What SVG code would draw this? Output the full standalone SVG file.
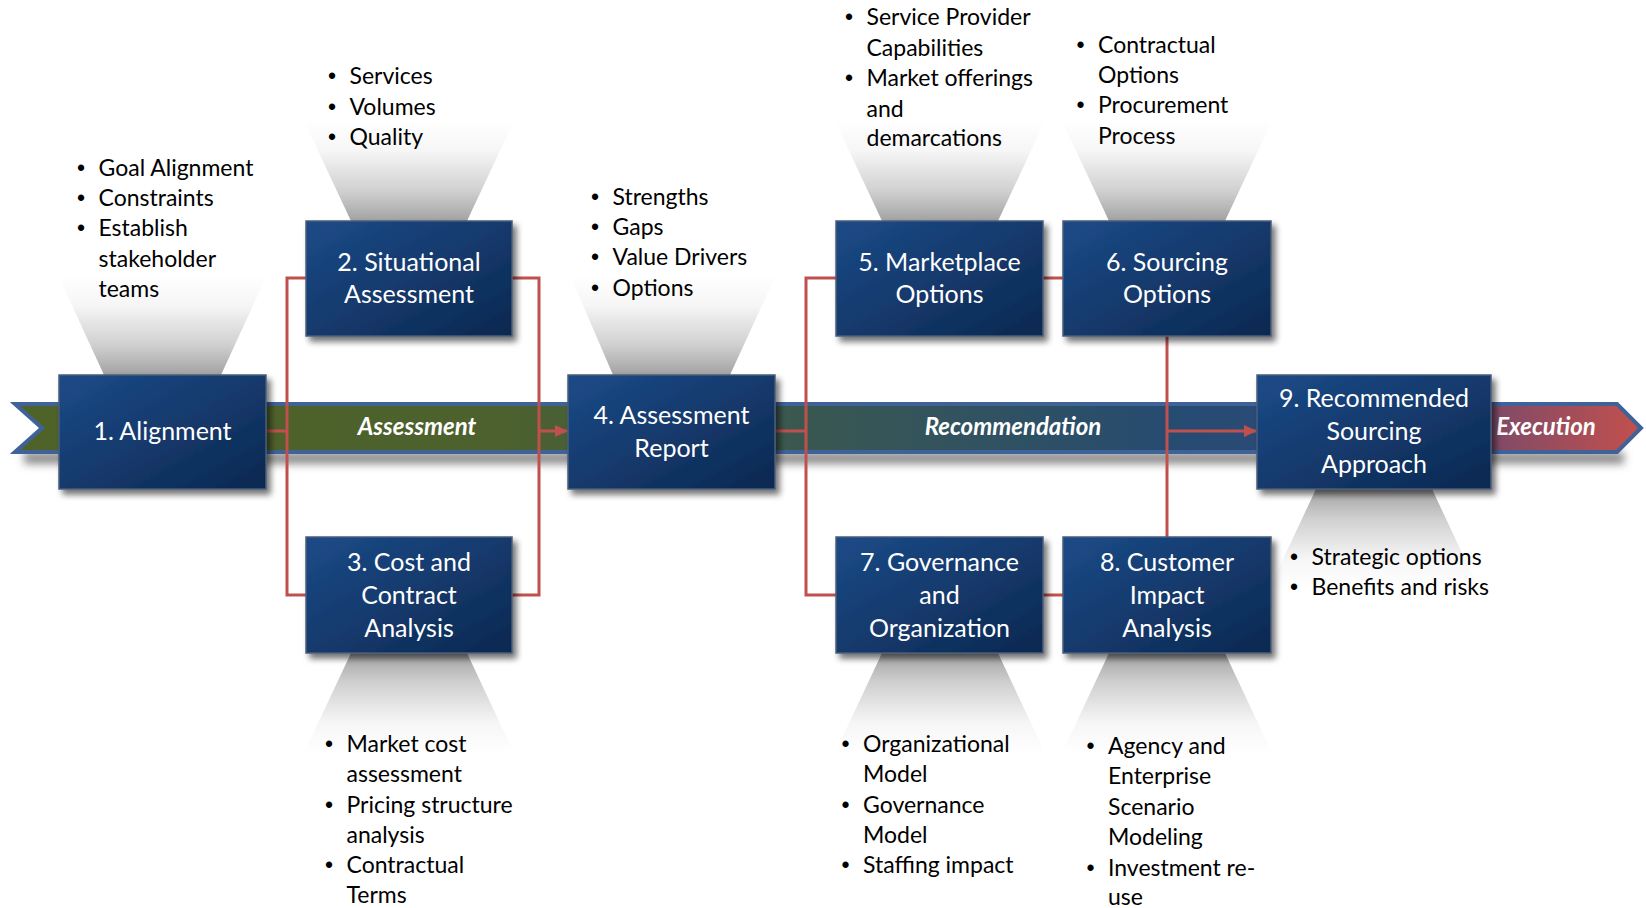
<svg xmlns="http://www.w3.org/2000/svg" width="1646" height="908" viewBox="0 0 1646 908">
<defs>
  <linearGradient id="band" gradientUnits="userSpaceOnUse" x1="12" y1="0" x2="1644" y2="0">
    <stop offset="0" stop-color="#4f6228"/>
    <stop offset="0.30" stop-color="#4d612e"/>
    <stop offset="0.48" stop-color="#3a5850"/>
    <stop offset="0.72" stop-color="#264b72"/>
    <stop offset="0.80" stop-color="#2d4b78"/>
    <stop offset="0.90" stop-color="#7a4a6a"/>
    <stop offset="1" stop-color="#c4504c"/>
  </linearGradient>
  <linearGradient id="boxg" x1="0" y1="0" x2="1" y2="1">
    <stop offset="0" stop-color="#1c4b88"/>
    <stop offset="1" stop-color="#0c2850"/>
  </linearGradient>
  <linearGradient id="fu" x1="0" y1="0" x2="0" y2="1">
    <stop offset="0" stop-color="#ffffff"/>
    <stop offset="0.3" stop-color="#f6f6f6"/>
    <stop offset="0.7" stop-color="#d0d0d0"/>
    <stop offset="1" stop-color="#a2a2a2"/>
  </linearGradient>
  <linearGradient id="fd" x1="0" y1="1" x2="0" y2="0">
    <stop offset="0" stop-color="#ffffff"/>
    <stop offset="0.3" stop-color="#f6f6f6"/>
    <stop offset="0.7" stop-color="#d0d0d0"/>
    <stop offset="1" stop-color="#a2a2a2"/>
  </linearGradient>
  <filter id="sh" x="-10%" y="-10%" width="130%" height="140%">
    <feGaussianBlur in="SourceAlpha" stdDeviation="3"/>
    <feOffset dx="4" dy="5" result="b"/>
    <feComponentTransfer><feFuncA type="linear" slope="0.55"/></feComponentTransfer>
    <feMerge><feMergeNode/><feMergeNode in="SourceGraphic"/></feMerge>
  </filter>
  <filter id="blur" x="-5%" y="-100%" width="110%" height="300%">
    <feGaussianBlur stdDeviation="4"/>
  </filter>
  <marker id="arr" markerUnits="userSpaceOnUse" markerWidth="14" markerHeight="14" refX="12" refY="7" orient="auto">
    <path d="M0,1 L13,7 L0,13 Z" fill="#c0504d"/>
  </marker>
</defs>
<style>
  .box { fill: url(#boxg); stroke: #4a5d7a; stroke-width: 1.5; filter: url(#sh); }
  .bt { font-family: Lato, "Liberation Sans", sans-serif; font-size: 25px; fill: #ffffff; text-anchor: middle; }
  .li { font-family: Lato, "Liberation Sans", sans-serif; font-size: 23px; fill: #000000; }
  .bu { font-family: "Liberation Sans", sans-serif; font-size: 23px; fill: #000000; }
  .con { stroke: #c0504d; stroke-width: 3; fill: none; }
  .bl { font-family: Lato, "Liberation Sans", sans-serif; font-weight: bold; font-style: italic; font-size: 24px; fill: #ffffff; text-anchor: middle; }
  .fu { fill: url(#fu); }
  .fd { fill: url(#fd); }
</style>

<g id="funnels">
  <polygon class="fu" points="58,275 267,275 221,375 104,375"/>
  <polygon class="fu" points="304,121 514,121 467,221 351,221"/>
  <polygon class="fu" points="570,275 776,275 730,375 613,375"/>
  <polygon class="fu" points="835,121 1045,121 998,221 882,221"/>
  <polygon class="fu" points="1062,121 1272,121 1225,221 1109,221"/>
  <polygon class="fd" points="351,653 467,653 514,753 304,753"/>
  <polygon class="fd" points="882,653 998,653 1045,753 835,753"/>
  <polygon class="fd" points="1109,653 1225,653 1272,753 1062,753"/>
  <polygon class="fd" points="1316,489 1432,489 1479,589 1269,589"/>
</g>

<g id="band-arrow">
  <rect x="24" y="452" width="1600" height="12" fill="#8c8c8c" filter="url(#blur)"/>
  <polygon points="15,404 1617,404 1641,428 1617,452 15,452 42,428" fill="url(#band)" stroke="#3f6398" stroke-width="4" stroke-linejoin="miter"/>
  <text class="bl" x="417" y="435">Assessment</text>
  <text class="bl" x="1013" y="435">Recommendation</text>
  <text class="bl" x="1546" y="435">Execution</text>
</g>

<g id="connectors">
  <path class="con" d="M266,431 H287"/>
  <path class="con" d="M306,278 H287 V595 H306"/>
  <path class="con" d="M512,278 H539 V595 H512"/>
  <path class="con" d="M539,431 H567" marker-end="url(#arr)"/>
  <path class="con" d="M775,431 H806"/>
  <path class="con" d="M836,278 H806 V595 H836"/>
  <path class="con" d="M1043,278 H1063"/>
  <path class="con" d="M1043,595 H1063"/>
  <path class="con" d="M1167,336 V537"/>
  <path class="con" d="M1167,431 H1256" marker-end="url(#arr)"/>
</g>

<g id="node1">
  <rect class="box" x="59" y="375" width="207" height="114"/>
  <text class="bt" x="162.5" y="440">1. Alignment</text>
</g>
<g id="node2">
  <rect class="box" x="306" y="221" width="206" height="115"/>
  <text class="bt" x="409" y="271">2. Situational</text>
  <text class="bt" x="409" y="303">Assessment</text>
</g>
<g id="node3">
  <rect class="box" x="306" y="537" width="206" height="116"/>
  <text class="bt" x="409" y="571">3. Cost and</text>
  <text class="bt" x="409" y="604">Contract</text>
  <text class="bt" x="409" y="637">Analysis</text>
</g>
<g id="node4">
  <rect class="box" x="568" y="375" width="207" height="114"/>
  <text class="bt" x="671.5" y="424">4. Assessment</text>
  <text class="bt" x="671.5" y="457">Report</text>
</g>
<g id="node5">
  <rect class="box" x="836" y="221" width="207" height="115"/>
  <text class="bt" x="939.5" y="271">5. Marketplace</text>
  <text class="bt" x="939.5" y="303">Options</text>
</g>
<g id="node6">
  <rect class="box" x="1063" y="221" width="208" height="115"/>
  <text class="bt" x="1167" y="271">6. Sourcing</text>
  <text class="bt" x="1167" y="303">Options</text>
</g>
<g id="node7">
  <rect class="box" x="836" y="537" width="207" height="116"/>
  <text class="bt" x="939.5" y="571">7. Governance</text>
  <text class="bt" x="939.5" y="604">and</text>
  <text class="bt" x="939.5" y="637">Organization</text>
</g>
<g id="node8">
  <rect class="box" x="1063" y="537" width="208" height="116"/>
  <text class="bt" x="1167" y="571">8. Customer</text>
  <text class="bt" x="1167" y="604">Impact</text>
  <text class="bt" x="1167" y="637">Analysis</text>
</g>
<g id="node9">
  <rect class="box" x="1257" y="375" width="234" height="114"/>
  <text class="bt" x="1374" y="407">9. Recommended</text>
  <text class="bt" x="1374" y="440">Sourcing</text>
  <text class="bt" x="1374" y="473">Approach</text>
</g>

<g id="list1">
  <text class="bu" x="77" y="176">•</text><text class="li" x="98.5" y="176">Goal Alignment</text>
  <text class="bu" x="77" y="206">•</text><text class="li" x="98.5" y="206">Constraints</text>
  <text class="bu" x="77" y="236">•</text><text class="li" x="98.5" y="236">Establish</text>
  <text class="li" x="98.5" y="267">stakeholder</text>
  <text class="li" x="98.5" y="297">teams</text>
</g>
<g id="list2">
  <text class="bu" x="328" y="84">•</text><text class="li" x="349.5" y="84">Services</text>
  <text class="bu" x="328" y="114.5">•</text><text class="li" x="349.5" y="114.5">Volumes</text>
  <text class="bu" x="328" y="145">•</text><text class="li" x="349.5" y="145">Quality</text>
</g>
<g id="list4">
  <text class="bu" x="591" y="205">•</text><text class="li" x="612.5" y="205">Strengths</text>
  <text class="bu" x="591" y="235">•</text><text class="li" x="612.5" y="235">Gaps</text>
  <text class="bu" x="591" y="265">•</text><text class="li" x="612.5" y="265">Value Drivers</text>
  <text class="bu" x="591" y="296">•</text><text class="li" x="612.5" y="296">Options</text>
</g>
<g id="list5">
  <text class="bu" x="845" y="25">•</text><text class="li" x="866.5" y="25">Service Provider</text>
  <text class="li" x="866.5" y="55.5">Capabilities</text>
  <text class="bu" x="845" y="86">•</text><text class="li" x="866.5" y="86">Market offerings</text>
  <text class="li" x="866.5" y="116.5">and</text>
  <text class="li" x="866.5" y="146">demarcations</text>
</g>
<g id="list6">
  <text class="bu" x="1076.5" y="52.5">•</text><text class="li" x="1098" y="52.5">Contractual</text>
  <text class="li" x="1098" y="83">Options</text>
  <text class="bu" x="1076.5" y="113">•</text><text class="li" x="1098" y="113">Procurement</text>
  <text class="li" x="1098" y="144">Process</text>
</g>
<g id="list3">
  <text class="bu" x="325" y="752">•</text><text class="li" x="346.5" y="752">Market cost</text>
  <text class="li" x="346.5" y="782">assessment</text>
  <text class="bu" x="325" y="812.5">•</text><text class="li" x="346.5" y="812.5">Pricing structure</text>
  <text class="li" x="346.5" y="843">analysis</text>
  <text class="bu" x="325" y="873">•</text><text class="li" x="346.5" y="873">Contractual</text>
  <text class="li" x="346.5" y="903">Terms</text>
</g>
<g id="list7">
  <text class="bu" x="841.5" y="752">•</text><text class="li" x="863" y="752">Organizational</text>
  <text class="li" x="863" y="782">Model</text>
  <text class="bu" x="841.5" y="812.5">•</text><text class="li" x="863" y="812.5">Governance</text>
  <text class="li" x="863" y="843">Model</text>
  <text class="bu" x="841.5" y="873">•</text><text class="li" x="863" y="873">Staffing impact</text>
</g>
<g id="list8">
  <text class="bu" x="1086.5" y="754">•</text><text class="li" x="1108" y="754">Agency and</text>
  <text class="li" x="1108" y="784">Enterprise</text>
  <text class="li" x="1108" y="814.5">Scenario</text>
  <text class="li" x="1108" y="845">Modeling</text>
  <text class="bu" x="1086.5" y="875.5">•</text><text class="li" x="1108" y="875.5">Investment re-</text>
  <text class="li" x="1108" y="905">use</text>
</g>
<g id="list9">
  <text class="bu" x="1290" y="565">•</text><text class="li" x="1311.5" y="565">Strategic options</text>
  <text class="bu" x="1290" y="595">•</text><text class="li" x="1311.5" y="595">Benefits and risks</text>
</g>
</svg>
